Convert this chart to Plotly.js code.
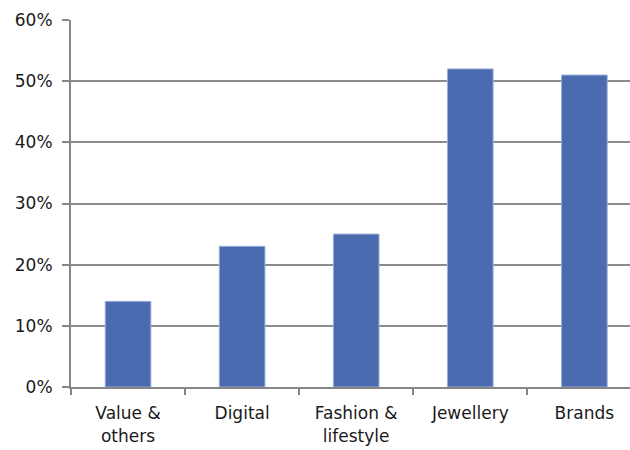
<!DOCTYPE html>
<html>
<head>
<meta charset="utf-8">
<script src="https://cdn.plot.ly/plotly-3.0.1.min.js"></script>
<style>html,body{margin:0;padding:0;background:#fff;}</style>
</head>
<body>
<div id="chart" style="width:630px;height:450px;"></div>
<script>
const categories = ["Value &<br>others", "Digital", "Fashion &<br>lifestyle", "Jewellery", "Brands"];
const values = [0.14, 0.23, 0.25, 0.52, 0.51];
const yTicks = [0, 0.1, 0.2, 0.3, 0.4, 0.5, 0.6];
const yTickLabels = ["0%", "10%", "20%", "30%", "40%", "50%", "60%"];

const trace = {
  type: "bar",
  x: categories,
  y: values,
  width: 0.4,
  marker: {color: "#4A6BAF", line: {color: "#9AB0DA", width: 1}},
  hoverinfo: "skip"
};

const layout = {
  width: 630, height: 450,
  margin: {l: 71, r: 0, t: 20, b: 63},
  paper_bgcolor: "#ffffff",
  plot_bgcolor: "#ffffff",
  showlegend: false,
  font: {family: "DejaVu Sans, sans-serif", size: 17, color: "#1a1a1a"},
  xaxis: {
    type: "category",
    range: [-0.5, 4.4],
    showline: true, linecolor: "#868686", linewidth: 2,
    ticks: "outside", ticklen: 6, tickcolor: "#868686", tickwidth: 2,
    tickson: "boundaries",
    showgrid: false,
    tickfont: {size: 17},
    ticklabelstandoff: 10,
    fixedrange: true
  },
  yaxis: {
    range: [0, 0.6],
    tickvals: yTicks, ticktext: yTickLabels,
    showline: true, linecolor: "#868686", linewidth: 2,
    ticks: "outside", ticklen: 7, tickcolor: "#868686", tickwidth: 2,
    showgrid: true, gridcolor: "#8c8c8c", gridwidth: 2,
    zeroline: false,
    tickfont: {size: 17},
    ticklabelstandoff: 6,
    fixedrange: true
  },
  bargap: 0.6
};

Plotly.newPlot("chart", [trace], layout, {displayModeBar: false, staticPlot: true});
</script>
</body>
</html>
